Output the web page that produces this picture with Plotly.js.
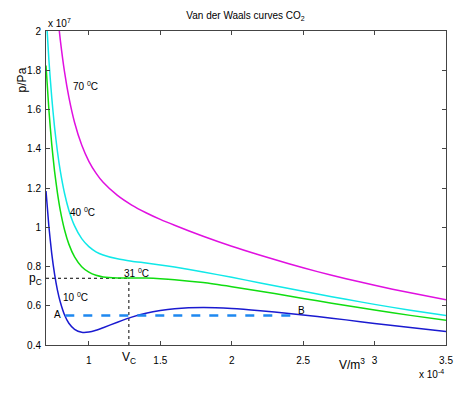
<!DOCTYPE html>
<html>
<head>
<meta charset="utf-8">
<script src="https://cdn.plot.ly/plotly-3.0.1.min.js"></script>
<style>html,body{margin:0;padding:0;background:#fff;}#chart{width:474px;height:393px;}</style>
</head>
<body>
<div id="chart"></div>
<script>
// Molar volume V (x 10^-4 m^3)
const volume = [0.70,0.72,0.74,0.76,0.78,0.80,0.83,0.86,0.90,0.95,1.00,1.05,1.10,1.20,1.30,1.40,1.50,1.60,1.80,2.00,2.20,2.40,2.60,2.80,3.00,3.25,3.50];
// Pressure p (x 10^7 Pa) for each isotherm
const p10 = [1.185,1.005,0.867,0.761,0.680,0.619,0.553,0.511,0.480,0.465,0.466,0.475,0.488,0.516,0.542,0.562,0.576,0.585,0.591,0.586,0.575,0.561,0.545,0.528,0.510,0.489,0.469];
const p31 = [1.824,1.600,1.424,1.285,1.175,1.086,0.986,0.914,0.849,0.799,0.771,0.755,0.747,0.742,0.742,0.741,0.738,0.733,0.718,0.697,0.674,0.650,0.625,0.601,0.578,0.551,0.526];
const p40 = [2.098,1.855,1.663,1.509,1.386,1.287,1.172,1.087,1.007,0.942,0.901,0.875,0.859,0.839,0.827,0.818,0.808,0.797,0.772,0.745,0.716,0.688,0.660,0.633,0.607,0.577,0.550];
const p70 = [3.010,2.706,2.459,2.258,2.092,1.955,1.790,1.663,1.534,1.419,1.336,1.276,1.229,1.162,1.113,1.074,1.040,1.010,0.954,0.903,0.857,0.814,0.774,0.738,0.704,0.666,0.631];
// Critical point and coexistence line (10 °C)
const Vc = 1.28, pc = 0.74;
const tieV = [0.835, 2.47], tieP = 0.55;
const xTicks = [1,1.5,2,2.5,3,3.5];
const xTickText = ["1","1.5","2","2.5","3","3.5"];
const yTicks = [0.4,0.6,0.8,1,1.2,1.4,1.6,1.8,2];
const yTickText = ["0.4","0.6","0.8","1","1.2","1.4","1.6","1.8","2"];

const F = "Liberation Sans, Arial, Helvetica, sans-serif";
function curve(y, color){
  return {x: volume, y: y, mode:'lines', line:{color:color, width:1.5, shape:'spline', smoothing:0.6}, hoverinfo:'skip', showlegend:false};
}
const traces = [
  {x:[0.7, Vc], y:[pc, pc], mode:'lines', line:{color:'#000', width:1, dash:'dot'}, showlegend:false},
  {x:[Vc, Vc], y:[0.4, pc], mode:'lines', line:{color:'#000', width:1, dash:'dot'}, showlegend:false},
  curve(p70, '#e010e0'),
  curve(p40, '#10e8e8'),
  curve(p31, '#10dd10'),
  curve(p10, '#1a1ad0'),
  {x: tieV, y:[tieP, tieP], mode:'lines', line:{color:'#1e88f0', width:2.5, dash:'dash'}, showlegend:false}
];
function ann(text, x, y, extra){
  return Object.assign({text:text, x:x, y:y, xref:'x', yref:'y', xanchor:'center', yanchor:'middle', showarrow:false, font:{family:F, size:10, color:'#000'}}, extra||{});
}
const layout = {
  width:474, height:393,
  margin:{l:46, r:28, t:31, b:48, pad:0},
  paper_bgcolor:'#fff', plot_bgcolor:'#fff',
  showlegend:false,
  title:{text:'Van der Waals curves CO<sub>2</sub>', font:{family:F, size:10, color:'#000'}, x:0.518, xanchor:'center', y:0.96, yanchor:'middle'},
  xaxis:{range:[0.7,3.5], tickvals:xTicks, ticktext:xTickText, ticks:'inside', ticklen:4, tickcolor:'#444', showline:true, linecolor:'#444', linewidth:1, mirror:'ticks', showgrid:false, zeroline:false, ticklabelstandoff:6, tickfont:{family:F, size:10, color:'#000'}},
  yaxis:{range:[0.4,2], tickvals:yTicks, ticktext:yTickText, ticks:'inside', ticklen:4, tickcolor:'#444', showline:true, linecolor:'#444', linewidth:1, mirror:'ticks', showgrid:false, zeroline:false, ticklabelstandoff:2, tickfont:{family:F, size:10, color:'#000'}},
  annotations:[
    ann('70 <sup>0</sup>C', 0.975, 1.72),
    ann('40 <sup>0</sup>C', 0.955, 1.077),
    ann('31 <sup>0</sup>C', 1.332, 0.766),
    ann('10 <sup>0</sup>C', 0.905, 0.644),
    ann('A', 0.777, 0.557),
    ann('B', 2.49, 0.575),
    ann('p<sub>C</sub>', -0.006, 0.735, {xref:'paper', xanchor:'right', font:{family:F, size:12, color:'#000'}}),
    ann('V<sub>C</sub>', Vc, -0.04, {yref:'paper', font:{family:F, size:12, color:'#000'}}),
    ann('p/Pa', -0.059, 0.844, {xref:'paper', yref:'paper', textangle:-90, font:{family:F, size:12, color:'#000'}}),
    ann('V/m<sup>3</sup>', 0.765, -0.062, {xref:'paper', yref:'paper', font:{family:F, size:12, color:'#000'}}),
    ann('x 10<sup>7</sup>', 0, 1.025, {xref:'paper', yref:'paper', xanchor:'left', font:{family:F, size:10, color:'#000'}}),
    ann('x 10<sup>-4</sup>', 1.0, -0.092, {xref:'paper', yref:'paper', xanchor:'right', font:{family:F, size:10, color:'#000'}})
  ]
};
Plotly.newPlot('chart', traces, layout, {displayModeBar:false, staticPlot:true});
</script>
</body>
</html>
